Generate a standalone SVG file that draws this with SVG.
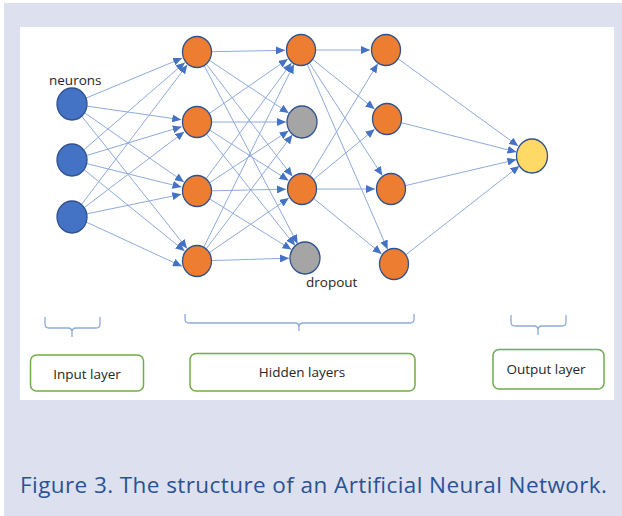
<svg xmlns="http://www.w3.org/2000/svg" width="622" height="516" viewBox="0 0 622 516">
<style>
.n{stroke:#2f528f;stroke-width:1.3}
.in{fill:#4472c4}.hd{fill:#ed7d31}.dr{fill:#a5a5a5}.out{fill:#ffd966}
.c line{stroke:#8eaadb;stroke-width:1;marker-end:url(#ah)}
.br{fill:none;stroke:#8eaadb;stroke-width:1.3}
.bx{fill:#fff;stroke:#70ad47;stroke-width:1.5}
.t{font-family:"Open Sans","Liberation Sans",sans-serif;fill:#262626;font-size:13.5px}
.cap{font-family:"Open Sans","Liberation Sans",sans-serif;fill:#2a5294;font-size:22.5px}
</style>
<defs>
<marker id="ah" markerUnits="userSpaceOnUse" markerWidth="9" markerHeight="8" refX="9" refY="4" orient="auto">
<path d="M0,0 L9,4 L0,8 z" fill="#4472c4"/>
</marker>
</defs>
<rect x="0" y="0" width="622" height="516" fill="#fff"/>
<rect x="4" y="3" width="618" height="513" fill="#dde1ef"/>
<rect x="20" y="27" width="594" height="373" fill="#fff"/>

<g class="c" id="connectors">
<line x1="85.8" y1="98.2" x2="182.2" y2="58.1"/>
<line x1="86.8" y1="106.1" x2="181.2" y2="119.7"/>
<line x1="84.3" y1="112.6" x2="183.9" y2="181.9"/>
<line x1="81.3" y1="115.7" x2="187" y2="248.5"/>
<line x1="83.4" y1="150.2" x2="184.9" y2="62.5"/>
<line x1="86.4" y1="155.6" x2="181.7" y2="126.7"/>
<line x1="86.6" y1="163.6" x2="181.5" y2="187.1"/>
<line x1="83.7" y1="169.4" x2="184.6" y2="251"/>
<line x1="81.1" y1="205" x2="187.3" y2="64.8"/>
<line x1="83.9" y1="207.9" x2="184.3" y2="131.7"/>
<line x1="86.7" y1="213.9" x2="181.3" y2="194.3"/>
<line x1="86.1" y1="222" x2="181.9" y2="266.3"/>

<line x1="211" y1="51.7" x2="285" y2="50.3"/>
<line x1="208.6" y1="59.8" x2="288.7" y2="113.1"/>
<line x1="205.5" y1="63.1" x2="292.3" y2="176.3"/>
<line x1="204" y1="65.3" x2="297.6" y2="243.8"/>
<line x1="208.5" y1="114" x2="287.8" y2="59.1"/>
<line x1="211" y1="122" x2="286" y2="122"/>
<line x1="208.8" y1="129.5" x2="288.5" y2="180.4"/>
<line x1="205.7" y1="133" x2="295" y2="245.5"/>
<line x1="205.3" y1="179.7" x2="291.5" y2="62.9"/>
<line x1="208.7" y1="183.3" x2="288.6" y2="130.8"/>
<line x1="211" y1="190.8" x2="286" y2="189.2"/>
<line x1="208.9" y1="198.4" x2="291.4" y2="249.6"/>
<line x1="203.2" y1="248.4" x2="293.9" y2="64.3"/>
<line x1="205.4" y1="249.8" x2="292.4" y2="134.8"/>
<line x1="208.6" y1="253.1" x2="288.8" y2="198.1"/>
<line x1="211" y1="260.6" x2="289" y2="258.2"/>

<line x1="315" y1="50" x2="370" y2="50"/>
<line x1="312.7" y1="59.4" x2="374.5" y2="109"/>
<line x1="308.6" y1="61.7" x2="382.3" y2="175.6"/>
<line x1="306.6" y1="62.8" x2="387.6" y2="249.3"/>
<line x1="309.2" y1="177" x2="377.7" y2="63.7"/>
<line x1="312.8" y1="180.1" x2="374.6" y2="129.2"/>
<line x1="316" y1="189" x2="375" y2="189"/>
<line x1="312.9" y1="197.8" x2="381.6" y2="253.9"/>

<line x1="397.3" y1="58.2" x2="518.2" y2="146"/>
<line x1="400.6" y1="122.5" x2="516.5" y2="152"/>
<line x1="404.6" y1="185.8" x2="516.4" y2="159.6"/>
<line x1="405" y1="255.4" x2="519.4" y2="165.9"/>
</g>

<g id="input-1"><ellipse class="n in" cx="72" cy="104" rx="15" ry="16"/></g>
<g id="input-2"><ellipse class="n in" cx="72" cy="160" rx="15" ry="16"/></g>
<g id="input-3"><ellipse class="n in" cx="72" cy="217" rx="15" ry="16"/></g>

<g id="h1-1"><ellipse class="n hd" cx="197" cy="52" rx="14.5" ry="15.5"/></g>
<g id="h1-2"><ellipse class="n hd" cx="197" cy="122" rx="14.5" ry="15.5"/></g>
<g id="h1-3"><ellipse class="n hd" cx="197" cy="191" rx="14.5" ry="15.5"/></g>
<g id="h1-4"><ellipse class="n hd" cx="197" cy="261" rx="14.5" ry="15.5"/></g>

<g id="h2-1"><ellipse class="n hd" cx="301" cy="50" rx="14.5" ry="15.5"/></g>
<g id="h2-2"><ellipse class="n dr" cx="302" cy="122" rx="15" ry="16"/></g>
<g id="h2-3"><ellipse class="n hd" cx="302" cy="189" rx="14.5" ry="15.5"/></g>
<g id="h2-4"><ellipse class="n dr" cx="305" cy="258" rx="15" ry="16"/></g>

<g id="h3-1"><ellipse class="n hd" cx="386" cy="50" rx="14.5" ry="15.5"/></g>
<g id="h3-2"><ellipse class="n hd" cx="387" cy="119" rx="14.5" ry="15.5"/></g>
<g id="h3-3"><ellipse class="n hd" cx="391" cy="189" rx="14.5" ry="15.5"/></g>
<g id="h3-4"><ellipse class="n hd" cx="394" cy="264" rx="14.5" ry="15.5"/></g>

<g id="output"><ellipse class="n out" cx="532" cy="156" rx="15.5" ry="17"/></g>

<text class="t" x="49" y="85">neurons</text>
<text class="t" x="306" y="287">dropout</text>

<g id="brackets">
<path class="br" d="M45,317 L45,324 Q45,328 49,328 L68,328 Q72,328 72,332 L72,337 M72,332 Q72,328 76,328 L96,328 Q100,328 100,324 L100,317"/>
<path class="br" d="M185,314 L185,319 Q185,323 189,323 L295,323 Q299,323 299,327 L299,331 M299,327 Q299,323 303,323 L410,323 Q414,323 414,319 L414,314"/>
<path class="br" d="M511,315 L511,322 Q511,326 515,326 L534,326 Q538,326 538,330 L538,335 M538,330 Q538,326 542,326 L562,326 Q566,326 566,322 L566,315"/>
</g>

<g id="input-layer"><rect class="bx" x="30.5" y="355" width="113" height="36" rx="6"/><text class="t" x="87" y="379" text-anchor="middle">Input layer</text></g>
<g id="hidden-layers"><rect class="bx" x="190" y="353.5" width="225" height="37.5" rx="6"/><text class="t" x="302" y="377" text-anchor="middle">Hidden layers</text></g>
<g id="output-layer"><rect class="bx" x="493" y="349.5" width="111" height="39.5" rx="6"/><text class="t" x="546" y="374" text-anchor="middle">Output layer</text></g>

<text class="cap" x="20" y="493" textLength="587">Figure 3. The structure of an Artificial Neural Network.</text>
</svg>
